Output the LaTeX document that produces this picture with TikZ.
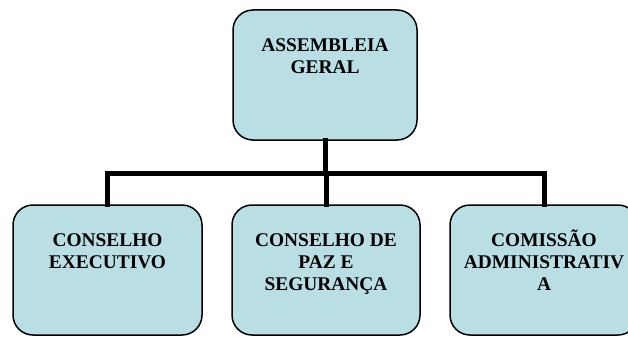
\documentclass[tikz,border=0pt]{standalone}
\usepackage{fontspec}
\setmainfont{Liberation Serif}
\definecolor{boxfill}{RGB}{185,223,228}
\newcommand{\boxtxt}[2]{\parbox[t][130pt][t]{#1}{\centering\rule{0pt}{41.7pt}#2}}
\tikzset{
  orgbox/.style={draw=black, line width=1.5pt, fill=boxfill, rounded corners=20pt,
    inner sep=0pt, font=\fontsize{19.4}{21.7}\selectfont\bfseries},
  link/.style={line width=5pt, line join=miter, line cap=rect}
}
\begin{document}
\begin{tikzpicture}[x=1pt,y=-1pt]
\useasboundingbox (0,0) rectangle (628,337);
\clip (0,0) rectangle (628,337);
\node[orgbox] (top) at (325,75) {\boxtxt{184pt}{ASSEMBLEIA\\GERAL}};
\node[orgbox] (b1) at (107.5,270) {\boxtxt{189pt}{CONSELHO\\EXECUTIVO}};
\node[orgbox] (b2) at (326,270) {\boxtxt{188pt}{CONSELHO DE\\PAZ E\\SEGURANÇA}};
\node[orgbox] (b3) at (544,270) {\boxtxt{188pt}{COMISSÃO\\ADMINISTRATIV\\A}};
\coordinate (j) at (325,173);
\draw[link] (top.south) -- (j);
\draw[link] (b1.north) |- (j);
\draw[link] (b3.north) |- (j);
\draw[link] (j) -- (j -| b2.north) -- (b2.north);
\end{tikzpicture}
\end{document}
